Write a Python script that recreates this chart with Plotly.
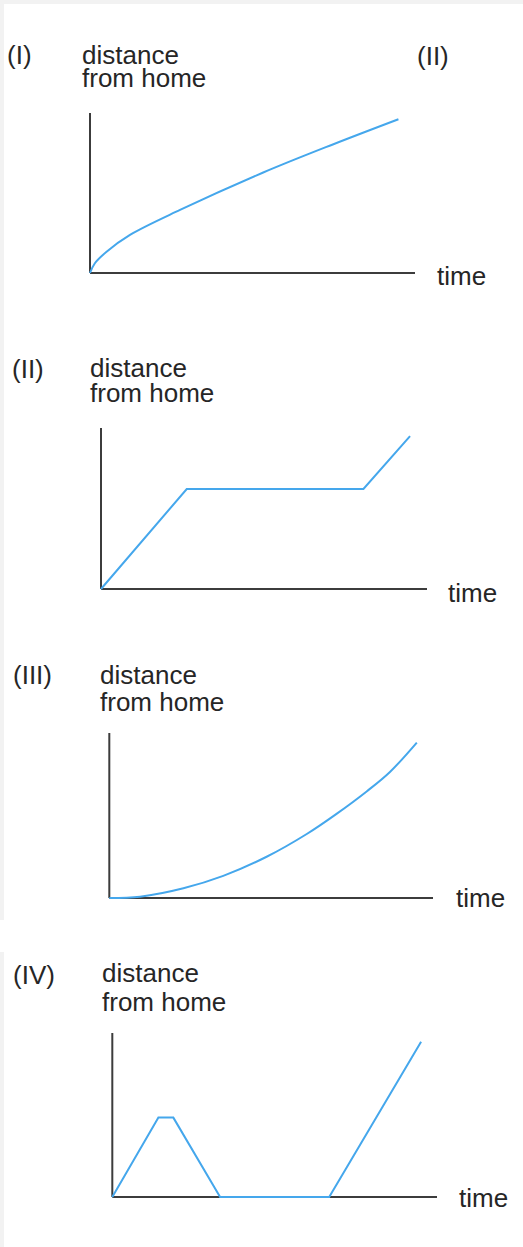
import plotly.graph_objects as go

# ---------------- data ----------------
PANEL_LABELS = ["(I)", "(II)", "(III)", "(IV)"]
EXTRA_LABEL = "(II)"
Y_LABEL_LINES = ["distance", "from home"]
X_LABEL = "time"

TIME_MAX = 100
DIST_MAX = 100

TIME_1 = [0, 1.5, 5.1, 12.3, 27.7, 53.3, 74.9, 94.9]
DIST_1 = [0, 6.1, 13.3, 23.8, 39.4, 62.8, 80.5, 96.1]

TIME_2 = [0, 26.3, 80.5, 94.8]
DIST_2 = [0, 62.1, 62.1, 95.0]

TIME_3 = [0, 9.5, 22.9, 35.2, 48.6, 61.0, 70.2, 79.5, 86.7, 95.0]
DIST_3 = [0, 0.8, 5.9, 13.4, 25.0, 38.8, 51.0, 64.6, 76.4, 94.2]

TIME_4 = [0, 14.2, 18.8, 33.2, 66.8, 95.1]
DIST_4 = [0, 48.4, 48.4, 0, 0, 94.7]

SERIES = [(TIME_1, DIST_1, "spline"), (TIME_2, DIST_2, "linear"),
          (TIME_3, DIST_3, "spline"), (TIME_4, DIST_4, "linear")]

# ---------------- layout (pixels) ----------------
W, H = 523, 1247
# axis origin x, axis end x, axis origin y (bottom), axis top y
AXES_PX = [(90, 415, 273, 113), (101, 427, 589, 428),
           (109.3, 433, 898, 733), (112.3, 437, 1197, 1033)]
PAD = 5

# label positions: (left x, middle y) in pixels
PANEL_LABEL_POS = [(5, 55), (10, 368.5), (11, 674.5), (11, 974.5)]
YLAB_POS = [(80, 54.6, 77.6), (88, 367.6, 392.6), (98, 674.6, 701.6), (100, 972.6, 1001.6)]
XLAB_POS = [(434.5, 275.6), (446, 592.6), (454, 897.6), (457, 1197.6)]
EXTRA_POS = (415, 56)

FONT = "Liberation Sans, Arial, sans-serif"
FS = 26
TXT = "#262626"
LINE_COL = "#45a7ec"
AXIS_COL = "#3c3c3c"

fig = go.Figure()
shapes = []
annotations = []


def px_x(p):
    return p / W


def px_y(p):
    return 1 - p / H


for i, ((x0, x1, y0, y1), (tx, dy, shp)) in enumerate(zip(AXES_PX, SERIES)):
    n = "" if i == 0 else str(i + 1)
    sx = (x1 - x0) / TIME_MAX
    sy = (y0 - y1) / DIST_MAX
    xdom = [px_x(x0 - PAD * sx), px_x(x1 + PAD * sx)]
    ydom = [px_y(y0 + PAD * sy), px_y(y1 - PAD * sy)]
    fig.update_layout(**{
        "xaxis" + n: dict(domain=xdom, range=[-PAD, TIME_MAX + PAD], visible=False,
                          anchor="y" + n, fixedrange=True),
        "yaxis" + n: dict(domain=ydom, range=[-PAD, DIST_MAX + PAD], visible=False,
                          anchor="x" + n, fixedrange=True),
    })
    fig.add_trace(go.Scatter(
        x=tx, y=dy, mode="lines", xaxis="x" + n, yaxis="y" + n,
        line=dict(color=LINE_COL, width=2, shape=shp, smoothing=1.0),
        showlegend=False, hoverinfo="skip"))
    # drawn axes
    shapes.append(dict(type="line", xref="x" + n, yref="y" + n, x0=0, y0=0, x1=0, y1=DIST_MAX,
                       line=dict(color=AXIS_COL, width=2), layer="below"))
    shapes.append(dict(type="line", xref="x" + n, yref="y" + n, x0=0, y0=0, x1=TIME_MAX, y1=0,
                       line=dict(color=AXIS_COL, width=2), layer="below"))

    lx, ly = PANEL_LABEL_POS[i]
    annotations.append(dict(text=PANEL_LABELS[i], x=px_x(lx), y=px_y(ly)))
    ax_, ya, yb = YLAB_POS[i]
    annotations.append(dict(text=Y_LABEL_LINES[0], x=px_x(ax_), y=px_y(ya)))
    annotations.append(dict(text=Y_LABEL_LINES[1], x=px_x(ax_), y=px_y(yb)))
    tx_, ty_ = XLAB_POS[i]
    annotations.append(dict(text=X_LABEL, x=px_x(tx_), y=px_y(ty_)))

annotations.append(dict(text=EXTRA_LABEL, x=px_x(EXTRA_POS[0]), y=px_y(EXTRA_POS[1])))

for a in annotations:
    a.update(xref="paper", yref="paper", xanchor="left", yanchor="middle",
             showarrow=False, font=dict(family=FONT, size=FS, color=TXT))

# faint grey page edges
BG_GREY = "#f2f2f2"
shapes.append(dict(type="rect", xref="paper", yref="paper", x0=0, x1=1, y0=px_y(4), y1=1,
                   fillcolor=BG_GREY, line=dict(width=0), layer="below"))
shapes.append(dict(type="rect", xref="paper", yref="paper", x0=0, x1=px_x(4), y0=px_y(920), y1=1,
                   fillcolor=BG_GREY, line=dict(width=0), layer="below"))
shapes.append(dict(type="rect", xref="paper", yref="paper", x0=0, x1=px_x(4), y0=0, y1=px_y(952),
                   fillcolor=BG_GREY, line=dict(width=0), layer="below"))

fig.update_layout(
    width=W, height=H, margin=dict(l=0, r=0, t=0, b=0),
    paper_bgcolor="white", plot_bgcolor="rgba(0,0,0,0)",
    shapes=shapes, annotations=annotations, showlegend=False,
)

fig.write_html(
    "out.html",
    config={"displayModeBar": False},
    post_script="document.body.style.margin='0';document.body.style.padding='0';"
                "document.body.style.overflow='hidden';",
)
